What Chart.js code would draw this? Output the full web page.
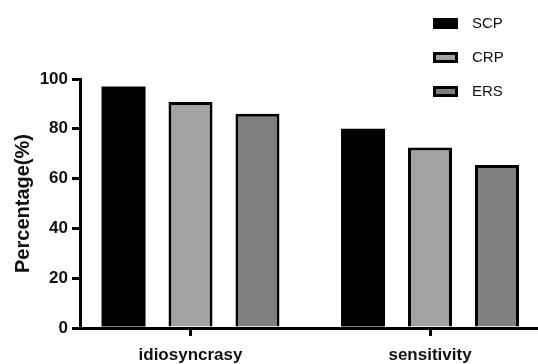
<!DOCTYPE html>
<html>
<head>
<meta charset="utf-8">
<script src="https://cdn.jsdelivr.net/npm/chart.js@4"></script>
<style>
  html, body { margin: 0; padding: 0; background: #fff; overflow: hidden; }
  canvas { display: block; }
</style>
</head>
<body>
<canvas id="chart" width="538" height="364"></canvas>
<script>
/**************** DATA ****************/
const categories = ["idiosyncrasy", "sensitivity"];
const seriesNames = ["SCP", "CRP", "ERS"];
const scpValues = [97, 80];
const crpValues = [90.8, 72.5];
const ersValues = [86, 65.5];
const yTicks = [0, 20, 40, 60, 80, 100];

const seriesColors = ["#000000", "#a2a2a4", "#7f7f7f"];
const FONT = "Arial, 'Liberation Sans', sans-serif";

/**************** HELPERS ****************/
function toPoints(values) {
  return values.map((v, i) => ({ x: i, y: v }));
}

const datasets = [scpValues, crpValues, ersValues].map((vals, i) => ({
  label: seriesNames[i],
  data: toPoints(vals),
  backgroundColor: seriesColors[i],
  borderColor: "#000",
  borderWidth: i === 0 ? 0 : 3,
  categoryPercentage: 0.839,
  barPercentage: 0.657
}));

/**************** LEGEND (stacked, top right) ****************/
const stackedLegend = {
  id: "stackedLegend",
  afterDraw(chart) {
    const ctx = chart.ctx;
    const rows = [23, 57, 91];
    ctx.save();
    chart.data.datasets.forEach((ds, i) => {
      const y = rows[i];
      ctx.fillStyle = "#000";
      ctx.fillRect(433, y - 5, 25, 11);
      if (i > 0) {
        ctx.fillStyle = ds.backgroundColor;
        ctx.fillRect(436, y - 2, 19, 5);
      }
      ctx.fillStyle = "#111";
      ctx.font = "15px " + FONT;
      ctx.textBaseline = "middle";
      ctx.textAlign = "left";
      ctx.fillText(ds.label, 472, y + 1);
    });
    ctx.restore();
  }
};

/**************** CHART ****************/
new Chart(document.getElementById("chart"), {
  type: "bar",
  data: { datasets },
  options: {
    responsive: false,
    animation: false,
    layout: { padding: { top: 79, left: 0, right: 0, bottom: 0 } },
    plugins: {
      legend: { display: false },
      tooltip: { enabled: false }
    },
    scales: {
      x: {
        type: "linear",
        min: -0.4614,
        max: 1.4509,
        offset: false,
        z: 1,
        afterBuildTicks: s => { s.ticks = categories.map((c, i) => ({ value: i })); },
        afterFit: s => { s.height = 36; },
        grid: { offset: false, drawOnChartArea: false, drawTicks: true, tickLength: 8, lineWidth: 3, color: "#000" },
        border: { display: true, width: 3, color: "#000" },
        ticks: {
          callback: v => categories[v],
          color: "#111",
          padding: 9,
          maxRotation: 0,
          font: { family: FONT, size: 17, weight: "bold" }
        }
      },
      y: {
        min: 0,
        max: 100,
        z: 1,
        afterBuildTicks: s => { s.ticks = yTicks.map(v => ({ value: v })); },
        afterFit: s => { s.width = 80; },
        grid: { drawOnChartArea: false, drawTicks: true, tickLength: 8, lineWidth: 3, color: "#000" },
        border: { display: true, width: 3, color: "#000" },
        ticks: {
          color: "#111",
          padding: 4,
          font: { family: FONT, size: 17, weight: "bold" }
        },
        title: {
          display: true,
          text: "Percentage(%)",
          color: "#111",
          padding: { top: 11, bottom: 0 },
          font: { family: FONT, size: 20, weight: "bold" }
        }
      }
    }
  },
  plugins: [stackedLegend]
});
</script>
</body>
</html>
